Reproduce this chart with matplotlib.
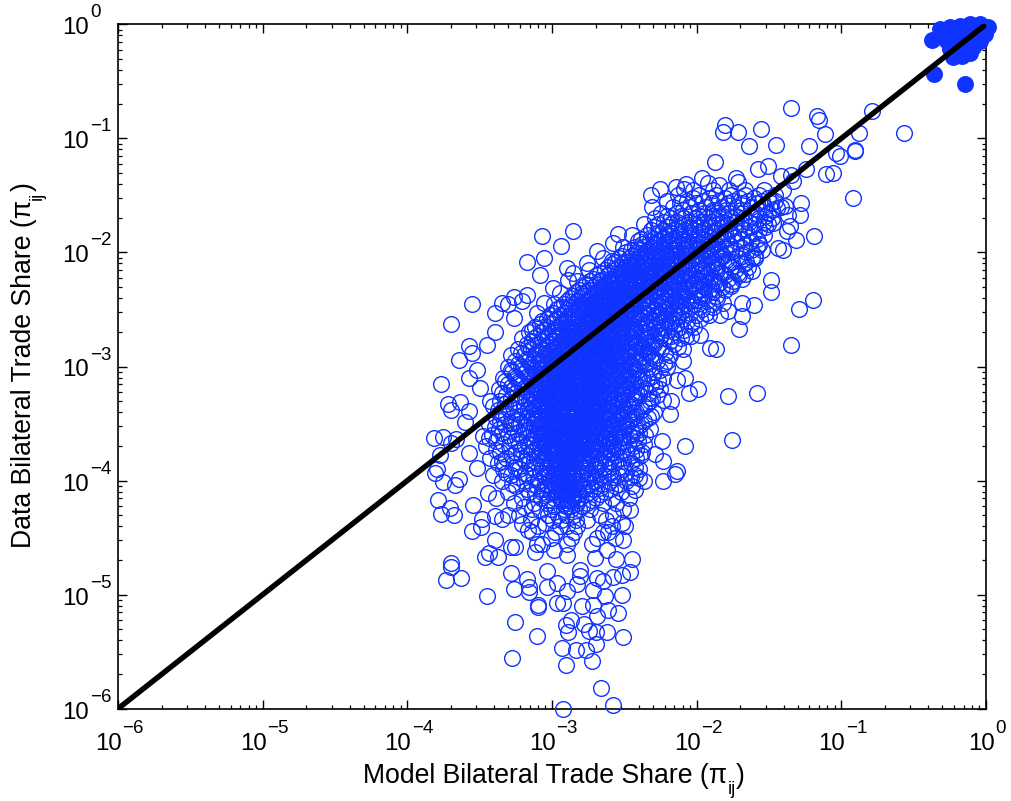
"""
plot.py
Model vs data bilateral trade shares, log-log scatter with 45 degree line.
All positions are log10 values read off the picture.
"""

import matplotlib
matplotlib.use("Agg")
import matplotlib.pyplot as plt
from matplotlib.ticker import LogLocator, NullFormatter
import numpy as np

BLUE = "#1033ff"

plt.rcParams["font.family"] = ["Liberation Sans", "DejaVu Sans"]

# (log10 model, log10 data) for the points that can be told apart
loose_points = [
    (-2.94, -6.0), (-2.594, -5.968), (-2.675, -5.82), (-3.29, -5.553), (-2.92, -5.614), (-2.74, -5.585),
    (-2.943, -5.468), (-2.85, -5.488), (-2.78, -5.488), (-2.71, -5.43), (-2.525, -5.375), (-2.635, -5.33),
    (-3.12, -5.36), (-3.27, -5.24), (-2.92, -5.27), (-2.90, -5.33), (-2.88, -5.225), (-2.79, -5.255),
    (-2.76, -5.315), (-2.71, -5.33), (-2.70, -5.185), (-2.625, -5.135), (-2.56, -5.165), (-2.53, -5.0),
    (-2.65, -5.015), (-2.73, -5.09), (-2.81, -5.10), (-3.11, -5.11), (-3.11, -5.09), (-3.46, -5.015),
    (-3.28, -4.95), (-3.17, -4.976), (-3.17, -4.93), (-3.19, -4.86), (-3.295, -4.81), (-3.75, -4.875),
    (-3.64, -4.85), (-3.71, -4.76), (-3.71, -4.72), (-3.48, -4.67), (-3.45, -4.635), (-3.39, -4.67),
    (-3.41, -4.525), (-3.30, -4.585), (-3.27, -4.58), (-3.565, -4.445), (-3.505, -4.41), (-3.495, -4.34),
    (-3.41, -4.31), (-3.36, -4.34), (-3.32, -4.30), (-3.78, -4.295), (-3.69, -4.30), (-3.72, -4.24),
    (-3.80, -4.17), (-3.56, -4.21), (-3.455, -4.11), (-3.40, -4.15), (-3.77, -4.01), (-3.685, -4.04),
    (-3.66, -3.985), (-3.82, -3.93), (-2.25, -4.005), (-2.165, -3.94), (-2.46, -4.685), (-2.475, -4.80),
    (-2.53, -4.825), (-2.59, -4.845), (-2.66, -4.88), (-2.73, -4.955), (-2.84, -4.91), (-2.91, -4.97),
    (-2.98, -5.07), (-2.94, -5.07), (-3.05, -4.93), (-3.05, -4.795), (-2.98, -4.895), (-2.82, -4.84),
    (-2.705, -4.85), (-2.635, -4.605), (-2.57, -4.69), (-2.52, -4.52), (-2.53, -4.37), (-2.475, -4.255),
    (-2.44, -4.08), (-2.41, -3.975), (-2.63, -4.455), (-2.72, -4.675), (-2.82, -4.78), (-2.91, -4.65),
    (-3.0, -4.605), (-3.12, -4.56), (-3.13, -4.63), (-3.18, -4.43), (-3.22, -4.385), (-3.21, -4.235),
    (-3.10, -4.255), (-3.06, -4.37),
    (-3.08, -1.857), (-2.87, -1.81), (-2.95, -1.94), (-3.07, -2.05), (-3.19, -2.085), (-2.91, -2.14),
    (-3.10, -2.195), (-3.57, -2.45), (-3.71, -2.63), (-3.41, -2.535), (-3.28, -2.575), (-3.36, -2.44),
    (-3.32, -2.45), (-3.28, -2.39), (-3.19, -2.37), (-3.22, -2.425), (-3.07, -2.44), (-3.12, -2.53),
    (-3.01, -2.31), (-2.96, -2.355), (-2.90, -2.24), (-2.87, -2.18), (-2.81, -2.355), (-2.775, -2.09),
    (-2.705, -1.99), (-2.60, -2.075), (-2.59, -1.915), (-2.56, -1.84), (-3.41, -2.70), (-3.46, -2.81),
    (-3.59, -2.82), (-3.57, -2.885), (-3.655, -2.945), (-3.53, -3.03), (-3.59, -3.10), (-3.78, -3.155),
    (-3.51, -3.185), (-3.735, -3.33), (-3.65, -3.31), (-3.71, -3.38), (-3.59, -3.39), (-3.615, -3.49),
    (-3.44, -3.305), (-3.83, -3.63), (-3.765, -3.62), (-3.68, -3.635), (-3.71, -3.675), (-3.79, -3.78),
    (-3.59, -3.76), (-3.81, -3.90), (-3.53, -3.89), (-3.49, -3.61), (-3.30, -3.495), (-2.095, -3.70),
    (-2.20, -3.42), (-2.255, -3.655), (-2.30, -3.77), (-2.245, -3.83), (-2.15, -3.92), (-2.095, -3.10),
    (-2.07, -3.23), (-2.005, -3.20), (-2.15, -3.115), (-2.19, -3.305), (-2.11, -2.955), (-2.11, -2.85),
    (-2.05, -2.735), (-2.22, -2.955), (-2.34, -3.55), (-2.25, -3.29),
    (-1.36, -0.734), (-1.18, -0.80), (-1.17, -0.84), (-1.125, -0.96), (-0.805, -0.76), (-0.58, -0.95),
    (-0.89, -0.95), (-1.82, -0.88), (-1.83, -0.94), (-1.73, -0.94), (-1.57, -0.92), (-1.65, -1.07),
    (-1.465, -1.06), (-1.235, -1.067), (-1.05, -1.13), (-1.02, -1.155), (-0.92, -1.10), (-0.92, -1.115),
    (-1.89, -1.21), (-1.26, -1.27), (-1.12, -1.31), (-1.07, -1.30), (-0.93, -1.52), (-1.52, -1.245),
    (-1.59, -1.27), (-1.74, -1.345), (-1.73, -1.38), (-1.98, -1.345), (-1.935, -1.39), (-1.86, -1.41),
    (-2.09, -1.40), (-2.16, -1.43), (-2.10, -1.445), (-2.27, -1.445), (-1.43, -1.33), (-1.36, -1.325),
    (-1.35, -1.375), (-1.29, -1.57), (-1.30, -1.675), (-1.37, -1.77), (-1.39, -1.81), (-1.205, -1.86),
    (-1.33, -1.895), (-1.415, -1.975), (-1.455, -1.965), (-1.50, -2.24), (-1.50, -2.345), (-1.21, -2.415),
    (-1.31, -2.50), (-1.62, -2.465), (-1.70, -2.44), (-1.70, -2.56), (-1.72, -2.67), (-1.36, -2.815),
    (-1.92, -2.835), (-1.99, -2.72), (-1.83, -2.44), (-1.795, -2.515), (-1.85, -2.545), (-1.63, -2.165),
    (-1.68, -2.19), (-1.78, -2.295), (-1.61, -2.05), (-1.58, -1.93), (-1.485, -1.74), (-1.46, -1.61),
    (-1.38, -1.67), (-1.40, -1.595), (-1.60, -3.23), (-1.77, -3.64), (-1.80, -3.26), (-1.88, -2.85),
]

# packed middle of the cloud, read row by row: log10 data -> log10 model values
dense_rows = {
    -4.56: [-3.08, -2.91, -2.74],
    -4.50: [-3.02, -2.88, -2.70, -2.58],
    -4.45: [-3.15, -2.99, -2.86, -2.66],
    -4.40: [-3.11, -2.96, -2.91, -2.84, -2.60, -2.51],
    -4.35: [-3.16, -3.01, -2.95, -2.85, -2.77, -2.64],
    -4.30: [-3.24, -3.04, -2.97, -2.92, -2.86, -2.68, -2.59],
    -4.25: [-3.15, -3.02, -2.93, -2.88, -2.83, -2.75, -2.52],
    -4.20: [-3.28, -3.14, -3.05, -2.94, -2.90, -2.84, -2.77, -2.66, -2.57],
    -4.15: [-3.22, -3.09, -3.00, -2.96, -2.92, -2.87, -2.82, -2.71, -2.60, -2.48],
    -4.10: [-3.32, -3.17, -3.08, -3.02, -2.97, -2.93, -2.89, -2.84, -2.76, -2.65, -2.54],
    -4.05: [-3.26, -3.12, -3.04, -2.99, -2.95, -2.91, -2.86, -2.80, -2.70, -2.58, -2.46],
    -4.00: [-3.36, -3.21, -3.11, -3.03, -2.98, -2.94, -2.90, -2.85, -2.78, -2.72, -2.62, -2.50, -2.38],
    -3.95: [-3.42, -3.30, -3.18, -3.07, -3.01, -2.96, -2.92, -2.87, -2.82, -2.75, -2.66, -2.56, -2.44],
    -3.90: [-3.35, -3.24, -3.13, -3.05, -2.99, -2.94, -2.89, -2.84, -2.79, -2.71, -2.63, -2.52, -2.41],
    -3.85: [-3.39, -3.28, -3.17, -3.09, -3.02, -2.97, -2.92, -2.88, -2.83, -2.77, -2.68, -2.59, -2.47],
    -3.80: [-3.44, -3.33, -3.22, -3.12, -3.05, -2.99, -2.95, -2.90, -2.85, -2.80, -2.73, -2.64, -2.55, -2.43],
    -3.75: [-3.37, -3.26, -3.16, -3.08, -3.02, -2.97, -2.92, -2.87, -2.82, -2.76, -2.69, -2.60, -2.50, -2.39],
    -3.70: [-3.47, -3.31, -3.20, -3.11, -3.05, -3.00, -2.94, -2.89, -2.84, -2.79, -2.72, -2.65, -2.56, -2.45],
    -3.65: [-3.40, -3.27, -3.15, -3.09, -3.03, -2.97, -2.92, -2.87, -2.82, -2.77, -2.70, -2.62, -2.52, -2.42],
    -3.60: [-3.43, -3.32, -3.22, -3.13, -3.06, -3.00, -2.95, -2.90, -2.85, -2.80, -2.74, -2.67, -2.58, -2.48, -2.37],
    -3.55: [-3.38, -3.28, -3.18, -3.10, -3.03, -2.98, -2.93, -2.88, -2.83, -2.78, -2.72, -2.64, -2.55, -2.44],
    -3.50: [-3.45, -3.34, -3.24, -3.14, -3.07, -3.01, -2.96, -2.91, -2.86, -2.81, -2.75, -2.69, -2.60, -2.50, -2.40],
    -3.45: [-3.40, -3.29, -3.19, -3.11, -3.04, -2.98, -2.93, -2.88, -2.83, -2.78, -2.72, -2.65, -2.56, -2.46, -2.35],
    -3.40: [-3.36, -3.25, -3.16, -3.08, -3.02, -2.96, -2.91, -2.86, -2.81, -2.76, -2.70, -2.62, -2.53, -2.43, -2.31],
    -3.35: [-3.42, -3.31, -3.21, -3.12, -3.05, -2.99, -2.93, -2.88, -2.83, -2.78, -2.73, -2.67, -2.59, -2.49, -2.38],
    -3.30: [-3.37, -3.27, -3.17, -3.09, -3.03, -2.97, -2.91, -2.86, -2.81, -2.76, -2.70, -2.64, -2.55, -2.45, -2.34],
    -3.25: [-3.33, -3.23, -3.14, -3.06, -3.00, -2.94, -2.89, -2.84, -2.79, -2.74, -2.68, -2.61, -2.52, -2.41, -2.29],
    -3.20: [-3.38, -3.28, -3.19, -3.11, -3.04, -2.97, -2.91, -2.86, -2.81, -2.76, -2.71, -2.65, -2.58, -2.48, -2.37, -2.27],
    -3.15: [-3.32, -3.22, -3.14, -3.07, -3.00, -2.94, -2.88, -2.83, -2.78, -2.73, -2.67, -2.61, -2.54, -2.44, -2.33],
    -3.10: [-3.35, -3.26, -3.17, -3.09, -3.02, -2.96, -2.90, -2.85, -2.80, -2.75, -2.70, -2.64, -2.57, -2.47, -2.36, -2.25],
    -3.05: [-3.29, -3.20, -3.12, -3.05, -2.98, -2.92, -2.87, -2.82, -2.77, -2.72, -2.66, -2.60, -2.53, -2.43, -2.31],
    -3.00: [-3.32, -3.23, -3.15, -3.08, -3.01, -2.94, -2.88, -2.83, -2.78, -2.73, -2.68, -2.62, -2.55, -2.46, -2.35, -2.22],
    -2.95: [-3.27, -3.18, -3.10, -3.03, -2.96, -2.90, -2.85, -2.80, -2.75, -2.70, -2.64, -2.58, -2.50, -2.40, -2.29],
    -2.90: [-3.30, -3.21, -3.13, -3.05, -2.98, -2.92, -2.86, -2.81, -2.76, -2.71, -2.66, -2.60, -2.53, -2.44, -2.33, -2.20],
    -2.85: [-3.25, -3.16, -3.08, -3.00, -2.94, -2.88, -2.83, -2.78, -2.73, -2.68, -2.62, -2.56, -2.48, -2.38, -2.26],
    -2.80: [-3.19, -3.11, -3.03, -2.96, -2.90, -2.84, -2.79, -2.74, -2.69, -2.64, -2.58, -2.51, -2.42, -2.31, -2.17],
    -2.75: [-3.22, -3.14, -3.06, -2.98, -2.92, -2.86, -2.81, -2.76, -2.71, -2.66, -2.60, -2.54, -2.46, -2.36, -2.24, -2.12],
    -2.70: [-3.17, -3.09, -3.01, -2.94, -2.88, -2.82, -2.77, -2.72, -2.67, -2.62, -2.56, -2.49, -2.40, -2.29, -2.17],
    -2.65: [-3.13, -3.05, -2.97, -2.90, -2.84, -2.79, -2.74, -2.69, -2.64, -2.58, -2.52, -2.45, -2.36, -2.25, -2.13, -2.03],
    -2.60: [-3.08, -3.00, -2.93, -2.86, -2.80, -2.75, -2.70, -2.65, -2.60, -2.54, -2.48, -2.40, -2.31, -2.20, -2.08],
    -2.55: [-3.03, -2.96, -2.89, -2.83, -2.77, -2.71, -2.66, -2.61, -2.56, -2.50, -2.43, -2.35, -2.26, -2.15, -2.02, -1.93],
    -2.50: [-2.98, -2.91, -2.84, -2.78, -2.72, -2.67, -2.62, -2.57, -2.52, -2.46, -2.39, -2.31, -2.21, -2.10, -1.98],
    -2.45: [-3.00, -2.93, -2.86, -2.80, -2.74, -2.68, -2.63, -2.58, -2.53, -2.47, -2.41, -2.34, -2.25, -2.14, -2.03, -1.91],
    -2.40: [-2.89, -2.82, -2.75, -2.69, -2.64, -2.59, -2.54, -2.49, -2.43, -2.37, -2.29, -2.20, -2.09, -1.97, -1.87],
    -2.35: [-2.85, -2.78, -2.71, -2.65, -2.60, -2.55, -2.50, -2.44, -2.38, -2.31, -2.23, -2.13, -2.02, -1.90],
    -2.30: [-2.80, -2.73, -2.67, -2.61, -2.56, -2.51, -2.46, -2.40, -2.33, -2.26, -2.17, -2.07, -1.96, -1.84],
    -2.25: [-2.84, -2.75, -2.68, -2.62, -2.56, -2.51, -2.46, -2.41, -2.35, -2.28, -2.20, -2.11, -2.00, -1.89, -1.76],
    -2.20: [-2.70, -2.63, -2.57, -2.52, -2.47, -2.42, -2.36, -2.30, -2.23, -2.15, -2.05, -1.94, -1.82, -1.72],
    -2.15: [-2.76, -2.65, -2.58, -2.52, -2.46, -2.41, -2.36, -2.30, -2.24, -2.17, -2.08, -1.98, -1.87, -1.75],
    -2.10: [-2.60, -2.53, -2.47, -2.42, -2.37, -2.31, -2.25, -2.18, -2.10, -2.01, -1.91, -1.80, -1.69],
    -2.05: [-2.66, -2.55, -2.48, -2.42, -2.37, -2.31, -2.25, -2.19, -2.12, -2.04, -1.95, -1.85, -1.73, -1.63],
    -2.00: [-2.50, -2.43, -2.37, -2.32, -2.26, -2.20, -2.13, -2.06, -1.98, -1.89, -1.78, -1.67],
    -1.95: [-2.52, -2.44, -2.38, -2.32, -2.26, -2.20, -2.14, -2.07, -1.99, -1.91, -1.82, -1.71, -1.60],
    -1.90: [-2.42, -2.34, -2.28, -2.21, -2.15, -2.08, -2.01, -1.93, -1.84, -1.74, -1.64],
    -1.85: [-2.46, -2.36, -2.28, -2.21, -2.14, -2.07, -2.00, -1.93, -1.85, -1.76, -1.66, -1.55],
    -1.80: [-2.33, -2.25, -2.17, -2.10, -2.03, -1.96, -1.88, -1.79, -1.69, -1.58],
    -1.75: [-2.38, -2.28, -2.19, -2.11, -2.03, -1.96, -1.88, -1.80, -1.71, -1.61, -1.52],
    -1.70: [-2.30, -2.19, -2.10, -2.02, -1.94, -1.86, -1.78, -1.69, -1.58, -1.49],
    -1.65: [-2.26, -2.15, -2.05, -1.96, -1.87, -1.79, -1.70, -1.61, -1.52],
    -1.60: [-2.32, -2.18, -2.06, -1.95, -1.84, -1.74, -1.64, -1.55, -1.43],
    -1.55: [-2.22, -2.08, -1.97, -1.86, -1.76, -1.66, -1.56, -1.47],
    -1.50: [-2.33, -2.14, -2.00, -1.88, -1.78, -1.68, -1.58, -1.47],
    -1.45: [-2.04, -1.90, -1.79, -1.68, -1.55, -1.42],
}

# second pass over the same area, rows in between the first ones
between_rows = {
    -4.22: [-3.00, -2.92, -2.89, -2.81],
    -4.17: [-3.04, -2.95, -2.91, -2.88, -2.85, -2.74],
    -4.12: [-3.13, -3.05, -2.98, -2.94, -2.91, -2.87, -2.83, -2.78, -2.68],
    -4.07: [-3.19, -3.07, -3.01, -2.96, -2.92, -2.88, -2.85, -2.79, -2.73, -2.61],
    -4.03: [-3.29, -3.15, -3.06, -3.00, -2.97, -2.93, -2.89, -2.83, -2.75, -2.67, -2.55],
    -3.97: [-3.25, -3.14, -3.06, -3.00, -2.97, -2.93, -2.90, -2.86, -2.81, -2.74, -2.68, -2.59, -2.47],
    -3.93: [-3.33, -3.20, -3.10, -3.04, -2.98, -2.95, -2.91, -2.87, -2.81, -2.77, -2.69, -2.61, -2.50],
    -3.88: [-3.27, -3.15, -3.08, -3.03, -3.00, -2.95, -2.90, -2.86, -2.82, -2.78, -2.70, -2.65, -2.55, -2.44],
    -3.83: [-3.36, -3.20, -3.14, -3.07, -3.02, -2.98, -2.93, -2.89, -2.86, -2.81, -2.75, -2.69, -2.61, -2.52],
    -3.78: [-3.29, -3.19, -3.10, -3.06, -3.01, -2.96, -2.92, -2.88, -2.84, -2.79, -2.74, -2.66, -2.58, -2.47, -2.40],
    -3.73: [-3.40, -3.23, -3.14, -3.08, -3.04, -2.98, -2.93, -2.90, -2.86, -2.81, -2.75, -2.71, -2.63, -2.53, -2.43],
    -3.68: [-3.35, -3.24, -3.18, -3.10, -3.07, -3.01, -2.96, -2.91, -2.88, -2.83, -2.78, -2.74, -2.67, -2.59, -2.49, -2.38],
    -3.63: [-3.45, -3.30, -3.19, -3.12, -3.07, -3.02, -2.98, -2.93, -2.89, -2.86, -2.81, -2.75, -2.69, -2.61, -2.54, -2.44],
    -3.58: [-3.36, -3.25, -3.16, -3.11, -3.05, -3.01, -2.96, -2.92, -2.88, -2.84, -2.79, -2.75, -2.70, -2.62, -2.56, -2.46, -2.41],
    -3.53: [-3.41, -3.30, -3.21, -3.12, -3.08, -3.04, -2.99, -2.94, -2.90, -2.87, -2.82, -2.77, -2.73, -2.66, -2.59, -2.52, -2.42],
    -3.48: [-3.37, -3.26, -3.17, -3.12, -3.06, -3.02, -2.97, -2.94, -2.89, -2.85, -2.80, -2.76, -2.71, -2.67, -2.58, -2.48, -2.38],
    -3.43: [-3.33, -3.22, -3.14, -3.09, -3.03, -3.00, -2.95, -2.90, -2.87, -2.82, -2.79, -2.74, -2.68, -2.63, -2.54, -2.44, -2.33],
    -3.38: [-3.39, -3.28, -3.18, -3.10, -3.07, -3.01, -2.97, -2.92, -2.89, -2.84, -2.80, -2.75, -2.71, -2.65, -2.57, -2.51, -2.40],
    -3.33: [-3.34, -3.24, -3.15, -3.11, -3.04, -3.00, -2.95, -2.90, -2.85, -2.82, -2.77, -2.72, -2.68, -2.60, -2.56, -2.47, -2.36],
    -3.28: [-3.30, -3.20, -3.12, -3.07, -3.02, -2.98, -2.93, -2.87, -2.83, -2.79, -2.75, -2.69, -2.66, -2.59, -2.50, -2.43, -2.32],
    -3.23: [-3.36, -3.26, -3.16, -3.09, -3.05, -2.99, -2.95, -2.90, -2.87, -2.82, -2.77, -2.73, -2.67, -2.62, -2.54, -2.46, -2.35],
    -3.18: [-3.30, -3.20, -3.12, -3.08, -3.02, -2.96, -2.92, -2.89, -2.84, -2.79, -2.75, -2.69, -2.63, -2.56, -2.50, -2.40, -2.30],
    -3.13: [-3.34, -3.24, -3.15, -3.10, -3.04, -2.98, -2.93, -2.87, -2.84, -2.81, -2.76, -2.71, -2.66, -2.60, -2.51, -2.45, -2.28],
    -3.08: [-3.27, -3.18, -3.13, -3.06, -3.00, -2.95, -2.91, -2.86, -2.83, -2.78, -2.73, -2.68, -2.62, -2.56, -2.49, -2.39, -2.32],
    -3.03: [-3.30, -3.22, -3.14, -3.09, -3.03, -2.97, -2.92, -2.89, -2.85, -2.79, -2.75, -2.71, -2.65, -2.58, -2.51, -2.42, -2.27],
    -2.98: [-3.25, -3.16, -3.11, -3.05, -2.99, -2.93, -2.87, -2.84, -2.81, -2.76, -2.71, -2.67, -2.61, -2.54, -2.47, -2.37, -2.24],
    -2.93: [-3.19, -3.14, -3.08, -3.01, -2.95, -2.90, -2.87, -2.82, -2.79, -2.74, -2.69, -2.63, -2.59, -2.51, -2.42, -2.31],
    -2.88: [-3.23, -3.12, -3.06, -2.99, -2.93, -2.90, -2.85, -2.80, -2.77, -2.72, -2.67, -2.63, -2.57, -2.50, -2.41, -2.35, -2.23],
    -2.83: [-3.18, -3.10, -3.04, -2.97, -2.92, -2.86, -2.82, -2.77, -2.74, -2.70, -2.65, -2.59, -2.54, -2.45, -2.35, -2.28, -2.14],
    -2.78: [-3.15, -3.08, -3.00, -2.95, -2.89, -2.83, -2.80, -2.75, -2.70, -2.67, -2.61, -2.55, -2.50, -2.43, -2.33, -2.20],
    -2.73: [-3.12, -3.04, -2.99, -2.92, -2.87, -2.83, -2.78, -2.73, -2.70, -2.65, -2.59, -2.52, -2.47, -2.38, -2.27, -2.19, -2.09],
    -2.68: [-3.15, -3.07, -2.99, -2.91, -2.86, -2.81, -2.75, -2.71, -2.66, -2.63, -2.57, -2.50, -2.44, -2.34, -2.22, -2.10],
    -2.63: [-3.10, -3.02, -2.95, -2.88, -2.82, -2.77, -2.73, -2.67, -2.62, -2.59, -2.53, -2.47, -2.38, -2.29, -2.16, -2.05],
    -2.58: [-3.05, -2.98, -2.91, -2.85, -2.78, -2.74, -2.68, -2.63, -2.59, -2.55, -2.49, -2.42, -2.33, -2.23, -2.11, -1.99],
    -2.53: [-3.01, -2.93, -2.87, -2.81, -2.75, -2.70, -2.64, -2.60, -2.55, -2.51, -2.44, -2.37, -2.28, -2.18, -2.06, -1.95],
    -2.48: [-2.95, -2.89, -2.83, -2.76, -2.70, -2.65, -2.60, -2.55, -2.51, -2.44, -2.36, -2.28, -2.23, -2.12, -2.00, -1.90],
    -2.43: [-2.91, -2.84, -2.78, -2.72, -2.66, -2.62, -2.56, -2.52, -2.45, -2.40, -2.32, -2.24, -2.16, -2.05, -1.94],
    -2.38: [-2.87, -2.80, -2.73, -2.67, -2.62, -2.57, -2.53, -2.47, -2.41, -2.34, -2.27, -2.18, -2.11, -1.99, -1.88],
    -2.33: [-2.83, -2.76, -2.69, -2.63, -2.58, -2.53, -2.48, -2.42, -2.35, -2.29, -2.20, -2.10, -1.99, -1.93, -1.82],
    -2.28: [-2.78, -2.71, -2.65, -2.59, -2.54, -2.49, -2.43, -2.38, -2.31, -2.24, -2.14, -2.04, -1.98, -1.87, -1.78],
    -2.23: [-2.73, -2.66, -2.60, -2.55, -2.49, -2.44, -2.38, -2.33, -2.25, -2.18, -2.09, -2.01, -1.92, -1.80, -1.70],
    -2.18: [-2.68, -2.61, -2.54, -2.49, -2.44, -2.38, -2.33, -2.27, -2.20, -2.12, -2.02, -1.96, -1.84, -1.73],
    -2.13: [-2.63, -2.56, -2.50, -2.45, -2.39, -2.34, -2.28, -2.21, -2.14, -2.06, -1.97, -1.89, -1.78, -1.66],
    -2.08: [-2.58, -2.51, -2.44, -2.39, -2.34, -2.28, -2.22, -2.16, -2.08, -1.99, -1.88, -1.77, -1.67],
    -2.03: [-2.53, -2.46, -2.40, -2.34, -2.29, -2.22, -2.16, -2.09, -2.01, -1.92, -1.83, -1.70, -1.61],
    -1.98: [-2.47, -2.41, -2.35, -2.29, -2.23, -2.16, -2.10, -2.02, -1.94, -1.86, -1.75, -1.64, -1.56],
    -1.93: [-2.39, -2.31, -2.24, -2.18, -2.11, -2.04, -1.96, -1.88, -1.79, -1.68, -1.58],
    -1.88: [-2.40, -2.31, -2.24, -2.18, -2.11, -2.03, -1.97, -1.88, -1.81, -1.70, -1.60],
    -1.83: [-2.28, -2.20, -2.13, -2.06, -1.99, -1.91, -1.82, -1.73, -1.62],
    -1.78: [-2.31, -2.22, -2.14, -2.06, -1.99, -1.92, -1.84, -1.75, -1.65, -1.54],
    -1.73: [-2.24, -2.15, -2.07, -1.99, -1.91, -1.83, -1.74, -1.65, -1.55],
    -1.68: [-2.22, -2.12, -2.00, -1.91, -1.83, -1.74, -1.64, -1.54],
    -1.63: [-2.11, -2.00, -1.90, -1.81, -1.71, -1.59, -1.49],
    -1.57: [-2.13, -2.02, -1.91, -1.80, -1.70, -1.60, -1.50],
    -1.52: [-2.04, -1.93, -1.82, -1.72, -1.62, -1.52],
}

# third pass, only the part that reads as solid blue
solid_rows = {
    -3.72: [-3.03, -2.99, -2.91, -2.85, -2.78, -2.74, -2.68, -2.61, -2.57],
    -3.67: [-3.06, -2.96, -2.94, -2.86, -2.81, -2.72, -2.69, -2.63, -2.55],
    -3.62: [-3.09, -3.00, -2.91, -2.87, -2.83, -2.77, -2.71, -2.65, -2.58, -2.52],
    -3.57: [-3.07, -3.03, -2.94, -2.89, -2.82, -2.76, -2.68, -2.63, -2.55],
    -3.52: [-3.10, -3.02, -2.97, -2.92, -2.85, -2.80, -2.71, -2.65, -2.60, -2.50],
    -3.47: [-3.13, -3.05, -2.99, -2.91, -2.84, -2.78, -2.73, -2.64, -2.61, -2.53, -2.47],
    -3.42: [-3.12, -3.04, -2.96, -2.92, -2.85, -2.80, -2.72, -2.66, -2.59, -2.49],
    -3.37: [-3.14, -3.06, -2.99, -2.94, -2.86, -2.79, -2.73, -2.69, -2.62, -2.55, -2.46],
    -3.32: [-3.13, -3.08, -3.01, -2.92, -2.88, -2.80, -2.74, -2.70, -2.63, -2.53, -2.48],
    -3.27: [-3.15, -3.05, -3.00, -2.95, -2.85, -2.81, -2.76, -2.71, -2.61, -2.56, -2.45],
    -3.22: [-3.12, -3.07, -3.02, -2.93, -2.88, -2.80, -2.75, -2.69, -2.63, -2.57, -2.50, -2.43],
    -3.17: [-3.13, -3.04, -2.99, -2.90, -2.85, -2.77, -2.72, -2.67, -2.61, -2.52, -2.47],
    -3.12: [-3.11, -3.06, -3.00, -2.95, -2.88, -2.82, -2.78, -2.70, -2.64, -2.58, -2.49, -2.41],
    -3.07: [-3.10, -3.03, -2.97, -2.93, -2.84, -2.80, -2.74, -2.66, -2.60, -2.54, -2.46],
    -3.02: [-3.07, -3.00, -2.95, -2.90, -2.83, -2.77, -2.72, -2.66, -2.59, -2.52, -2.44],
    -2.97: [-3.09, -3.02, -2.97, -2.88, -2.82, -2.78, -2.72, -2.63, -2.56, -2.48, -2.42],
    -2.92: [-3.04, -2.99, -2.93, -2.85, -2.80, -2.72, -2.68, -2.61, -2.55, -2.47, -2.38],
    -2.87: [-3.03, -2.95, -2.89, -2.83, -2.78, -2.70, -2.65, -2.59, -2.51, -2.44, -2.36],
    -2.82: [-2.99, -2.93, -2.85, -2.80, -2.75, -2.68, -2.62, -2.56, -2.47, -2.39, -2.33],
    -2.77: [-3.01, -2.93, -2.87, -2.81, -2.72, -2.66, -2.59, -2.53, -2.46, -2.37, -2.30],
    -2.72: [-2.96, -2.90, -2.84, -2.76, -2.69, -2.64, -2.55, -2.50, -2.43, -2.35, -2.26],
    -2.67: [-2.95, -2.88, -2.80, -2.73, -2.68, -2.60, -2.54, -2.47, -2.39, -2.31, -2.24],
    -2.62: [-2.92, -2.84, -2.78, -2.71, -2.63, -2.57, -2.50, -2.43, -2.35, -2.27, -2.19],
    -2.57: [-2.87, -2.80, -2.74, -2.66, -2.58, -2.52, -2.45, -2.38, -2.29, -2.24, -2.14],
    -2.52: [-2.85, -2.77, -2.69, -2.63, -2.56, -2.49, -2.41, -2.33, -2.25, -2.17, -2.12],
    -2.47: [-2.79, -2.72, -2.65, -2.59, -2.50, -2.44, -2.36, -2.29, -2.20, -2.13, -2.06],
    -2.42: [-2.76, -2.67, -2.61, -2.53, -2.47, -2.38, -2.31, -2.23, -2.17, -2.08, -2.01],
    -2.37: [-2.70, -2.63, -2.57, -2.50, -2.42, -2.35, -2.26, -2.20, -2.12, -2.03, -1.96],
    -2.32: [-2.66, -2.59, -2.52, -2.45, -2.37, -2.30, -2.22, -2.14, -2.08, -1.99, -1.91],
    -2.27: [-2.62, -2.53, -2.48, -2.39, -2.33, -2.24, -2.17, -2.10, -2.03, -1.94, -1.86],
    -2.22: [-2.56, -2.49, -2.42, -2.35, -2.27, -2.20, -2.12, -2.06, -1.97, -1.90],
    -2.17: [-2.53, -2.44, -2.38, -2.29, -2.23, -2.14, -2.08, -2.00, -1.93, -1.85],
    -2.12: [-2.46, -2.40, -2.32, -2.26, -2.17, -2.10, -2.02, -1.95, -1.87],
    -2.07: [-2.43, -2.35, -2.27, -2.20, -2.13, -2.05, -1.97, -1.90, -1.81],
    -2.02: [-2.36, -2.30, -2.22, -2.15, -2.07, -2.00, -1.92, -1.84],
    -1.97: [-2.33, -2.24, -2.17, -2.09, -2.02, -1.95, -1.86, -1.78],
}

# the filled points in the top right corner
filled_model = [-0.385, -0.37, -0.16, -0.30, -0.25, -0.24, -0.18, -0.125, -0.26, -0.15, -0.10, -0.035, -0.02,
                -0.085, -0.19, -0.19, -0.05, -0.22, -0.13, -0.07, -0.29, -0.21, -0.11,
                -0.332, -0.263, -0.194, -0.125, -0.056, 0.0, -0.02, -0.056, -0.125, -0.208, -0.277, -0.208,
                -0.16, -0.104, -0.263]
filled_data = [-0.14, -0.44, -0.525, -0.088, -0.05, -0.29, -0.28, -0.25, -0.19, -0.13, -0.03, -0.03, -0.07,
               -0.16, -0.07, -0.17, -0.10, -0.24, -0.19, -0.10, -0.14, -0.03, -0.09,
               -0.044, -0.026, -0.018, 0.0, 0.0, -0.026, -0.088, -0.149, -0.175, -0.13, -0.149, -0.22,
               -0.237, -0.2, -0.22]

line_ends = [1e-6, 1]
tick_exps = [-6, -5, -4, -3, -2, -1, 0]

# points were read with the origin about 2 px to the left of the real spine
X_READ_OFFSET = 0.014

model_log = [p[0] for p in loose_points]
data_log = [p[1] for p in loose_points]
for rows in (dense_rows, between_rows, solid_rows):
    for level, xs in rows.items():
        model_log += xs
        data_log += [level] * len(xs)
model_vals = 10 ** (np.array(model_log) + X_READ_OFFSET)
data_vals = 10 ** np.array(data_log)

W, H = 1011, 801
LEFT, RIGHT, TOP, BOTTOM = 118, 986, 24.3, 708.7

fig = plt.figure(figsize=(W / 100, H / 100), dpi=100)
ax = fig.add_axes([LEFT / W, 1 - BOTTOM / H, (RIGHT - LEFT) / W, (BOTTOM - TOP) / H])

ax.plot(model_vals, data_vals, "o", mfc="none", mec=BLUE, ms=11.3, mew=1.0, clip_on=False, zorder=3)
ax.plot(10 ** (np.array(filled_model) + X_READ_OFFSET), 10 ** np.array(filled_data), "o", color=BLUE, ms=12.2,
        mew=0, clip_on=False, zorder=3)
ax.plot(line_ends, line_ends, color="black", lw=3.9, zorder=4, solid_capstyle="round")

ax.set_xscale("log")
ax.set_yscale("log")
ax.set_xlim(1e-6, 1)
ax.set_ylim(1e-6, 1)

tick_vals = [10.0 ** e for e in tick_exps]
ax.set_xticks(tick_vals, [""] * len(tick_vals))
ax.set_yticks(tick_vals, [""] * len(tick_vals))
for axis in (ax.xaxis, ax.yaxis):
    axis.set_minor_locator(LogLocator(base=10, subs=np.arange(2, 10), numticks=12))
    axis.set_minor_formatter(NullFormatter())
ax.tick_params(which="major", direction="in", length=6.5, width=1.0, top=True, right=True)
ax.tick_params(which="minor", direction="in", length=3.2, width=0.9, top=True, right=True)
for spine in ax.spines.values():
    spine.set_linewidth(1.2)


def px_text(x, y, s, size, **kw):
    # x, y in picture pixels, y measured from the top
    return fig.text(x / W, 1 - y / H, s, fontsize=size, va="baseline", **kw)


def exp_text(e):
    return str(e).replace("-", "\u2212")


# tick labels: the exponent is larger than mathtext would set it, so two texts each
x_span = (RIGHT - LEFT) / 6
y_span = (BOTTOM - TOP) / 6
for i, e in enumerate(tick_exps):
    tx = LEFT + i * x_span
    ty = BOTTOM - i * y_span
    shift = -18 if e == 0 else -23
    px_text(tx + shift, 750, "10", 17.3, ha="left")
    px_text(tx + shift + 27.5, 732.7, exp_text(e), 13.5, ha="left")
    px_text(89, ty + 10, "10", 17.3, ha="right")
    px_text(90, ty - 7, exp_text(e), 13.5, ha="left")

# axis labels are put together piece by piece to get the low subscript
fig.canvas.draw()
renderer = fig.canvas.get_renderer()


def text_width(s, size):
    t = fig.text(0, 0, s, fontsize=size)
    w = t.get_window_extent(renderer).width
    t.remove()
    return w


LABEL_SIZE = 19.2
SUB_SIZE = 13.5
sub_w = text_width("ij", SUB_SIZE)

x_main = "Model Bilateral Trade Share (\u03c0"
x_end = 363 + text_width(x_main, LABEL_SIZE)
px_text(363, 783.3, x_main, LABEL_SIZE, ha="left")
px_text(x_end + 0.5, 794.5, "ij", SUB_SIZE, ha="left")
px_text(x_end + sub_w + 1, 783.3, ")", LABEL_SIZE, ha="left")

y_main = "Data Bilateral Trade Share (\u03c0"
y_base = 30.7
y_start = 548
y_end = y_start - text_width(y_main, LABEL_SIZE)
rot = dict(rotation=90, rotation_mode="anchor", ha="left")
px_text(y_base, y_start, y_main, LABEL_SIZE, **rot)
px_text(y_base + 11.2, y_end - 0.5, "ij", SUB_SIZE, **rot)
px_text(y_base, y_end - sub_w - 1, ")", LABEL_SIZE, **rot)

fig.savefig("out.png", dpi=100)
